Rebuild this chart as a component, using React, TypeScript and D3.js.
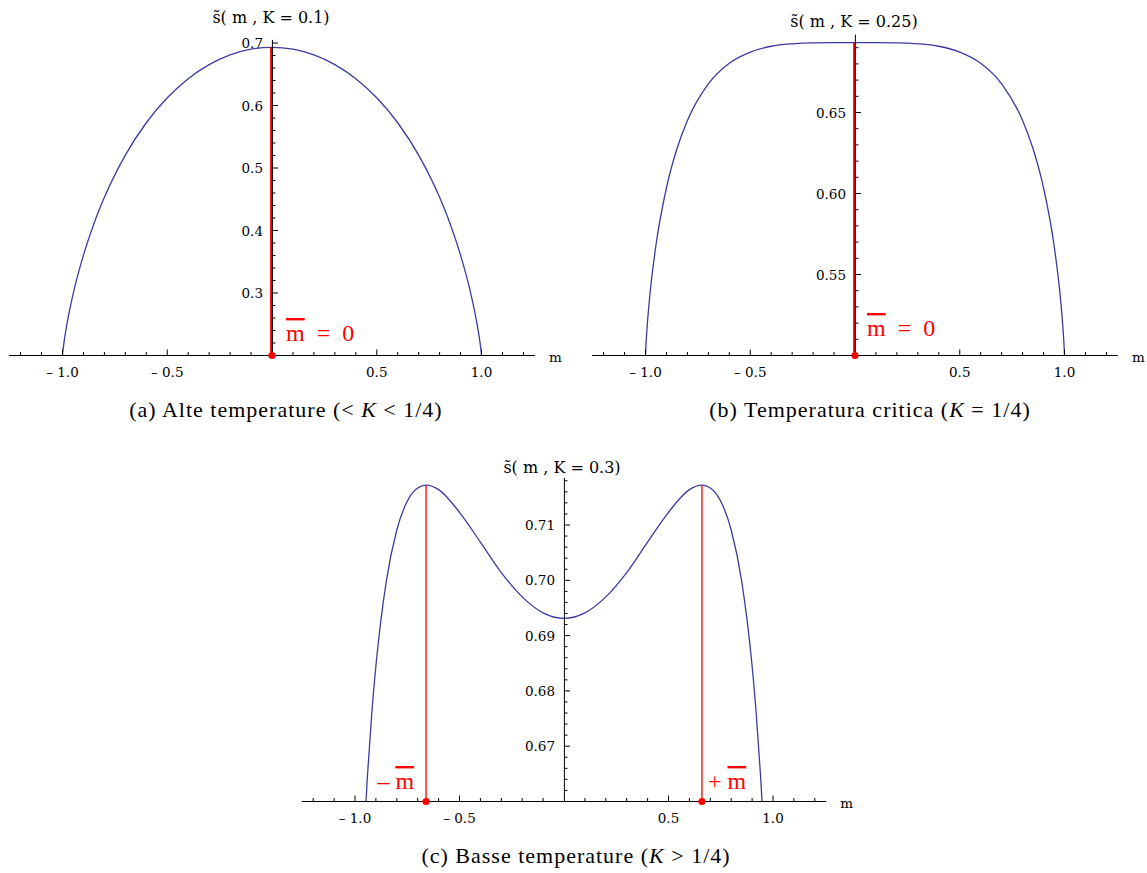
import React from 'react'
import * as d3 from 'd3'

// griglia di magnetizzazione m e valori di s~(m, K)
const mFull = [-1, -0.999, -0.995, -0.99, -0.98, -0.95, -0.9, -0.85, -0.8, -0.7, -0.6, -0.5, -0.4, -0.3, -0.2, -0.1,
  0, 0.1, 0.2, 0.3, 0.4, 0.5, 0.6, 0.7, 0.8, 0.85, 0.9, 0.95, 0.98, 0.99, 0.995, 0.999, 1]

const sK010 = [0.2000, 0.2039, 0.2155, 0.2275, 0.2481, 0.2974, 0.3605, 0.4109, 0.4531, 0.5207, 0.5724, 0.6123, 0.6429, 0.6654, 0.6810, 0.6901,
  0.6931, 0.6901, 0.6810, 0.6654, 0.6429, 0.6123, 0.5724, 0.5207, 0.4531, 0.4109, 0.3605, 0.2974, 0.2481, 0.2275, 0.2155, 0.2039, 0.2000]

const sK025 = [0.5000, 0.5033, 0.5125, 0.5215, 0.5362, 0.5682, 0.6035, 0.6276, 0.6451, 0.6677, 0.6804, 0.6873, 0.6909, 0.6924, 0.6930, 0.6931,
  0.6931, 0.6931, 0.6930, 0.6924, 0.6909, 0.6873, 0.6804, 0.6677, 0.6451, 0.6276, 0.6035, 0.5682, 0.5362, 0.5215, 0.5125, 0.5033, 0.5000]

const mLow = [-0.95, -0.94, -0.92, -0.9, -0.85, -0.8, -0.75, -0.7, -0.66, -0.6, -0.5, -0.4, -0.3, -0.2, -0.1,
  0, 0.1, 0.2, 0.3, 0.4, 0.5, 0.6, 0.66, 0.7, 0.75, 0.8, 0.85, 0.9, 0.92, 0.94, 0.95]

const sK030 = [0.6584, 0.6649, 0.6758, 0.6845, 0.6999, 0.7091, 0.7143, 0.7167, 0.7172, 0.7164, 0.7123, 0.7069, 0.7014, 0.6970, 0.6941,
  0.6931, 0.6941, 0.6970, 0.7014, 0.7069, 0.7123, 0.7164, 0.7172, 0.7167, 0.7143, 0.7091, 0.6999, 0.6845, 0.6758, 0.6649, 0.6584]

// punti di equilibrio m barra
const mBarHigh = [0]
const sBarHigh = [0.6931]
const mBarLow = [-0.66, 0.66]
const sBarLow = [0.7172, 0.7172]

const xTickValues = [-1, -0.5, 0.5, 1]
const xTickLabels = ['– 1.0', '– 0.5', '0.5', '1.0']

const yTicksA = [0.3, 0.4, 0.5, 0.6, 0.7]
const yLabelsA = ['0.3', '0.4', '0.5', '0.6', '0.7']
const yTicksB = [0.55, 0.6, 0.65]
const yLabelsB = ['0.55', '0.60', '0.65']
const yTicksC = [0.67, 0.68, 0.69, 0.7, 0.71]
const yLabelsC = ['0.67', '0.68', '0.69', '0.70', '0.71']

const titles = ['s\u0303( m , K = 0.1)', 's\u0303( m , K = 0.25)', 's\u0303( m , K = 0.3)']

const BLUE = '#3c3ca0'
const RED = '#ff0000'
const MFONT = 'DejaVu Serif, serif'
const TFONT = 'Liberation Serif, Times New Roman, serif'

function Panel (props) {
  const p = props.spec
  const x = d3.scaleLinear().domain([-1, 1]).range(p.xRange)
  const y = d3.scaleLinear().domain(p.yDomain).range(p.yRange)
  const x0 = x(0)
  const yb = y(p.yDomain[0])

  const line = d3.line()
    .x(d => x(d[0]))
    .y(d => y(d[1]))
    .curve(d3.curveMonotoneX)
  const pts = p.mGrid.map((m, i) => [m, p.sValues[i]])

  const xMinor = d3.range(-12, 13).filter(i => i !== 0).map(i => i / 10)
  const nY = Math.floor((p.yTop - p.yDomain[0]) / p.yStep + 1e-6)
  const yMinor = d3.range(1, nY + 1).map(i => p.yDomain[0] + i * p.yStep)
  const isMajorY = v => p.yTicks.some(t => Math.abs(t - v) < 1e-6)
  const isMajorX = v => xTickValues.some(t => Math.abs(t - v) < 1e-6)

  const clipId = 'clip-' + p.id
  const xl = x(-1.255)
  const xr = x(1.255)

  return (
    <g>
      <defs>
        <clipPath id={clipId}>
          <rect x={xl} y={y(p.yTop) - 10} width={xr - xl} height={yb - y(p.yTop) + 10} />
        </clipPath>
      </defs>

      {/* curva */}
      <path d={line(pts)} fill='none' stroke={BLUE} strokeWidth={1.3} clipPath={'url(#' + clipId + ')'} />

      {/* linee rosse di equilibrio */}
      {p.mBar.map((m, i) => (
        <line key={'r' + i} x1={x(m) - (m === 0 ? 0.7 : 0)} x2={x(m) - (m === 0 ? 0.7 : 0)} y1={yb} y2={y(p.sBar[i])}
          stroke={RED} strokeWidth={m === 0 ? 2.4 : 1.3} />
      ))}

      {/* asse x */}
      <line x1={xl} x2={xr} y1={yb} y2={yb} stroke='#000' strokeWidth={1} />
      {xMinor.map(v => (
        <line key={'xt' + v} x1={x(v)} x2={x(v)} y1={yb} y2={yb - (isMajorX(v) ? 6 : 3.5)} stroke='#000' strokeWidth={1} />
      ))}
      {xTickValues.map((v, i) => (
        <text key={'xl' + v} x={x(v)} y={yb + 21} textAnchor='middle' fontFamily={MFONT} fontSize={13.5}
          style={{ whiteSpace: 'pre' }}>{xTickLabels[i]}</text>
      ))}
      <text x={xr + 14} y={yb + 6} fontFamily={MFONT} fontSize={13.5}>m</text>

      {/* asse y */}
      <line x1={x0 + 0.4} x2={x0 + 0.4} y1={yb} y2={y(p.yTop)} stroke='#000' strokeWidth={1} />
      {yMinor.map(v => (
        <line key={'yt' + v} x1={x0} x2={x0 + (isMajorY(v) ? 6 : 3.5)} y1={y(v)} y2={y(v)} stroke='#000' strokeWidth={1} />
      ))}
      {p.yTicks.map((v, i) => (
        <text key={'yl' + v} x={x0 - 9} y={y(v) + 5} textAnchor='end' fontFamily={MFONT} fontSize={13.5}>{p.yLabels[i]}</text>
      ))}

      {/* titolo */}
      <text x={p.titleX} y={p.titleY} textAnchor='middle' fontFamily={MFONT} fontSize={16}
        style={{ whiteSpace: 'pre' }}>{p.title}</text>

      {/* punti */}
      {p.mBar.map((m, i) => (
        <circle key={'d' + i} cx={x(m)} cy={yb} r={3.6} fill={RED} />
      ))}

      {/* etichette rosse */}
      {p.barLabels.map((b, i) => (
        <text key={'bl' + i} x={x(b.m) + b.dx} y={b.y} textAnchor={b.anchor} fill={RED}
          fontFamily={TFONT} fontSize={24} style={{ whiteSpace: 'pre' }}>
          {b.prefix}
          <tspan style={{ textDecoration: 'overline', textDecorationThickness: '1.2px' }}>m</tspan>
          {b.suffix}
        </text>
      ))}

      {/* didascalia */}
      <text x={p.capX} y={p.capY} textAnchor='middle' fontFamily={TFONT} fontSize={22} letterSpacing={1}
        style={{ whiteSpace: 'pre' }}>
        {p.caption[0]}<tspan fontStyle='italic'>K</tspan>{p.caption[1]}
      </text>
    </g>
  )
}

const panels = [
  {
    id: 'a',
    title: titles[0],
    mGrid: mFull,
    sValues: sK010,
    xRange: [62.5, 481.5],
    yDomain: [0.2, 0.7],
    yRange: [355.5, 43],
    yTop: 0.705,
    yStep: 0.02,
    yTicks: yTicksA,
    yLabels: yLabelsA,
    mBar: mBarHigh,
    sBar: sBarHigh,
    barLabels: [{ m: 0, dx: 14, y: 341, anchor: 'start', prefix: '', suffix: '  =  0' }],
    titleX: 271,
    titleY: 23,
    caption: ['(a) Alte temperature (< ', ' < 1/4)'],
    capX: 286,
    capY: 417
  },
  {
    id: 'b',
    title: titles[1],
    mGrid: mFull,
    sValues: sK025,
    xRange: [645.5, 1064.5],
    yDomain: [0.5, 0.7],
    yRange: [355.5, 31.5],
    yTop: 0.698,
    yStep: 0.01,
    yTicks: yTicksB,
    yLabels: yLabelsB,
    mBar: mBarHigh,
    sBar: sBarHigh,
    barLabels: [{ m: 0, dx: 12, y: 336, anchor: 'start', prefix: '', suffix: '  =  0' }],
    titleX: 854,
    titleY: 27,
    caption: ['(b) Temperatura critica (', ' = 1/4)'],
    capX: 870,
    capY: 417
  },
  {
    id: 'c',
    title: titles[2],
    mGrid: mLow,
    sValues: sK030,
    xRange: [355, 773],
    yDomain: [0.66, 0.72],
    yRange: [801.5, 469.7],
    yTop: 0.7185,
    yStep: 0.002,
    yTicks: yTicksC,
    yLabels: yLabelsC,
    mBar: mBarLow,
    sBar: sBarLow,
    barLabels: [
      { m: -0.66, dx: -12, y: 789, anchor: 'end', prefix: '– ', suffix: '' },
      { m: 0.66, dx: 6, y: 789, anchor: 'start', prefix: '+ ', suffix: '' }
    ],
    titleX: 562,
    titleY: 473,
    caption: ['(c) Basse temperature (', ' > 1/4)'],
    capX: 576,
    capY: 863
  }
]

export default function App () {
  return (
    <div style={{ position: 'absolute', left: 0, top: 0, background: '#fff' }}>
      <svg width={1147} height={873} style={{ display: 'block' }}>
        <rect width={1147} height={873} fill='#fff' />
        {panels.map(p => <Panel key={p.id} spec={p} />)}
      </svg>
    </div>
  )
}
